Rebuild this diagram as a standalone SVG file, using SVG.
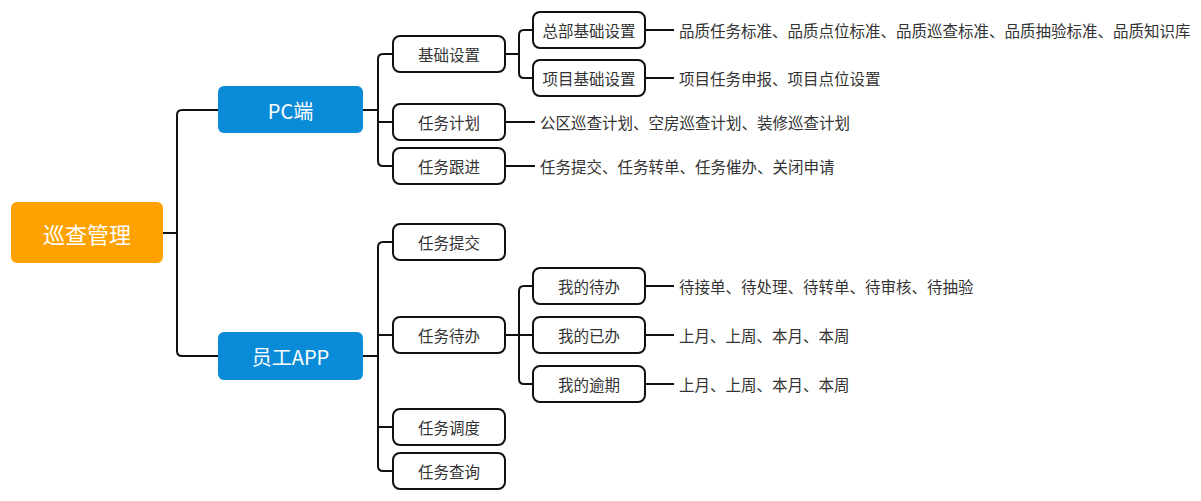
<svg xmlns="http://www.w3.org/2000/svg" width="1201" height="501" viewBox="0 0 1201 501">
<style>
.c{fill:none;stroke:#111;stroke-width:2;}
.n{fill:#fff;stroke:#111;stroke-width:2;}
.t{font-family:"Microsoft YaHei","Noto Sans CJK SC","Noto Sans",sans-serif;font-size:15.5px;fill:#333;dominant-baseline:central;}
.m{text-anchor:middle;}
.w{fill:#fff;font-size:20px;}
</style>
<rect width="1201" height="501" fill="#fff"/>
<g id="connectors">
<path class="c" d="M163,233 H177"/>
<path class="c" d="M218,110 H182 Q177,110 177,115 V351 Q177,356 182,356 H218"/>
<path class="c" d="M363,110 H378"/>
<path class="c" d="M393,54 H383 Q378,54 378,59 V161 Q378,166 383,166 H393"/>
<path class="c" d="M378,122 H393"/>
<path class="c" d="M505,54 H519"/>
<path class="c" d="M533,30 H524 Q519,30 519,35 V73 Q519,78 524,78 H533"/>
<path class="c" d="M645,30 H674"/>
<path class="c" d="M645,78 H674"/>
<path class="c" d="M505,122 H535"/>
<path class="c" d="M505,166 H535"/>
<path class="c" d="M363,356 H378"/>
<path class="c" d="M393,242 H383 Q378,242 378,247 V466 Q378,471 383,471 H393"/>
<path class="c" d="M378,335 H393"/>
<path class="c" d="M378,427 H393"/>
<path class="c" d="M505,335 H533"/>
<path class="c" d="M533,286 H524 Q519,286 519,291 V379 Q519,384 524,384 H533"/>
<path class="c" d="M645,286 H674"/>
<path class="c" d="M645,335 H674"/>
<path class="c" d="M645,384 H674"/>
</g>
<g id="root"><rect x="11" y="202" width="152" height="61" rx="6" fill="#FFA200"/><text class="t m w" x="87" y="233" style="font-size:22px">巡查管理</text></g>
<g id="pc"><rect x="218" y="86" width="145" height="47" rx="6" fill="#0A8BD8"/><text class="t m w" x="290.5" y="110">PC端</text></g>
<g id="app"><rect x="218" y="332" width="145" height="48" rx="6" fill="#0A8BD8"/><text class="t m w" x="290.5" y="356">员工APP</text></g>
<g id="jcsz"><rect class="n" x="393" y="36" width="112" height="36" rx="7"/><text class="t m" x="449" y="54">基础设置</text></g>
<g id="rwjh"><rect class="n" x="393" y="104" width="112" height="36" rx="7"/><text class="t m" x="449" y="122">任务计划</text></g>
<g id="rwgj"><rect class="n" x="393" y="148" width="112" height="36" rx="7"/><text class="t m" x="449" y="166">任务跟进</text></g>
<g id="zbjcsz"><rect class="n" x="533" y="12" width="112" height="36" rx="7"/><text class="t m" x="589" y="30">总部基础设置</text></g>
<g id="xmjcsz"><rect class="n" x="533" y="60" width="112" height="36" rx="7"/><text class="t m" x="589" y="78">项目基础设置</text></g>
<g id="rwtj"><rect class="n" x="393" y="224" width="112" height="36" rx="7"/><text class="t m" x="449" y="242">任务提交</text></g>
<g id="rwdb"><rect class="n" x="393" y="317" width="112" height="36" rx="7"/><text class="t m" x="449" y="335">任务待办</text></g>
<g id="rwdd"><rect class="n" x="393" y="409" width="112" height="36" rx="7"/><text class="t m" x="449" y="427">任务调度</text></g>
<g id="rwcx"><rect class="n" x="393" y="453" width="112" height="36" rx="7"/><text class="t m" x="449" y="471">任务查询</text></g>
<g id="wddb"><rect class="n" x="533" y="268" width="112" height="36" rx="7"/><text class="t m" x="589" y="286">我的待办</text></g>
<g id="wdyb"><rect class="n" x="533" y="317" width="112" height="36" rx="7"/><text class="t m" x="589" y="335">我的已办</text></g>
<g id="wdyq"><rect class="n" x="533" y="366" width="112" height="36" rx="7"/><text class="t m" x="589" y="384">我的逾期</text></g>
<g id="labels">
<text class="t" x="679" y="30">品质任务标准、品质点位标准、品质巡查标准、品质抽验标准、品质知识库</text>
<text class="t" x="679" y="78">项目任务申报、项目点位设置</text>
<text class="t" x="540" y="122">公区巡查计划、空房巡查计划、装修巡查计划</text>
<text class="t" x="540" y="166">任务提交、任务转单、任务催办、关闭申请</text>
<text class="t" x="679" y="286">待接单、待处理、待转单、待审核、待抽验</text>
<text class="t" x="679" y="335">上月、上周、本月、本周</text>
<text class="t" x="679" y="384">上月、上周、本月、本周</text>
</g>
</svg>
